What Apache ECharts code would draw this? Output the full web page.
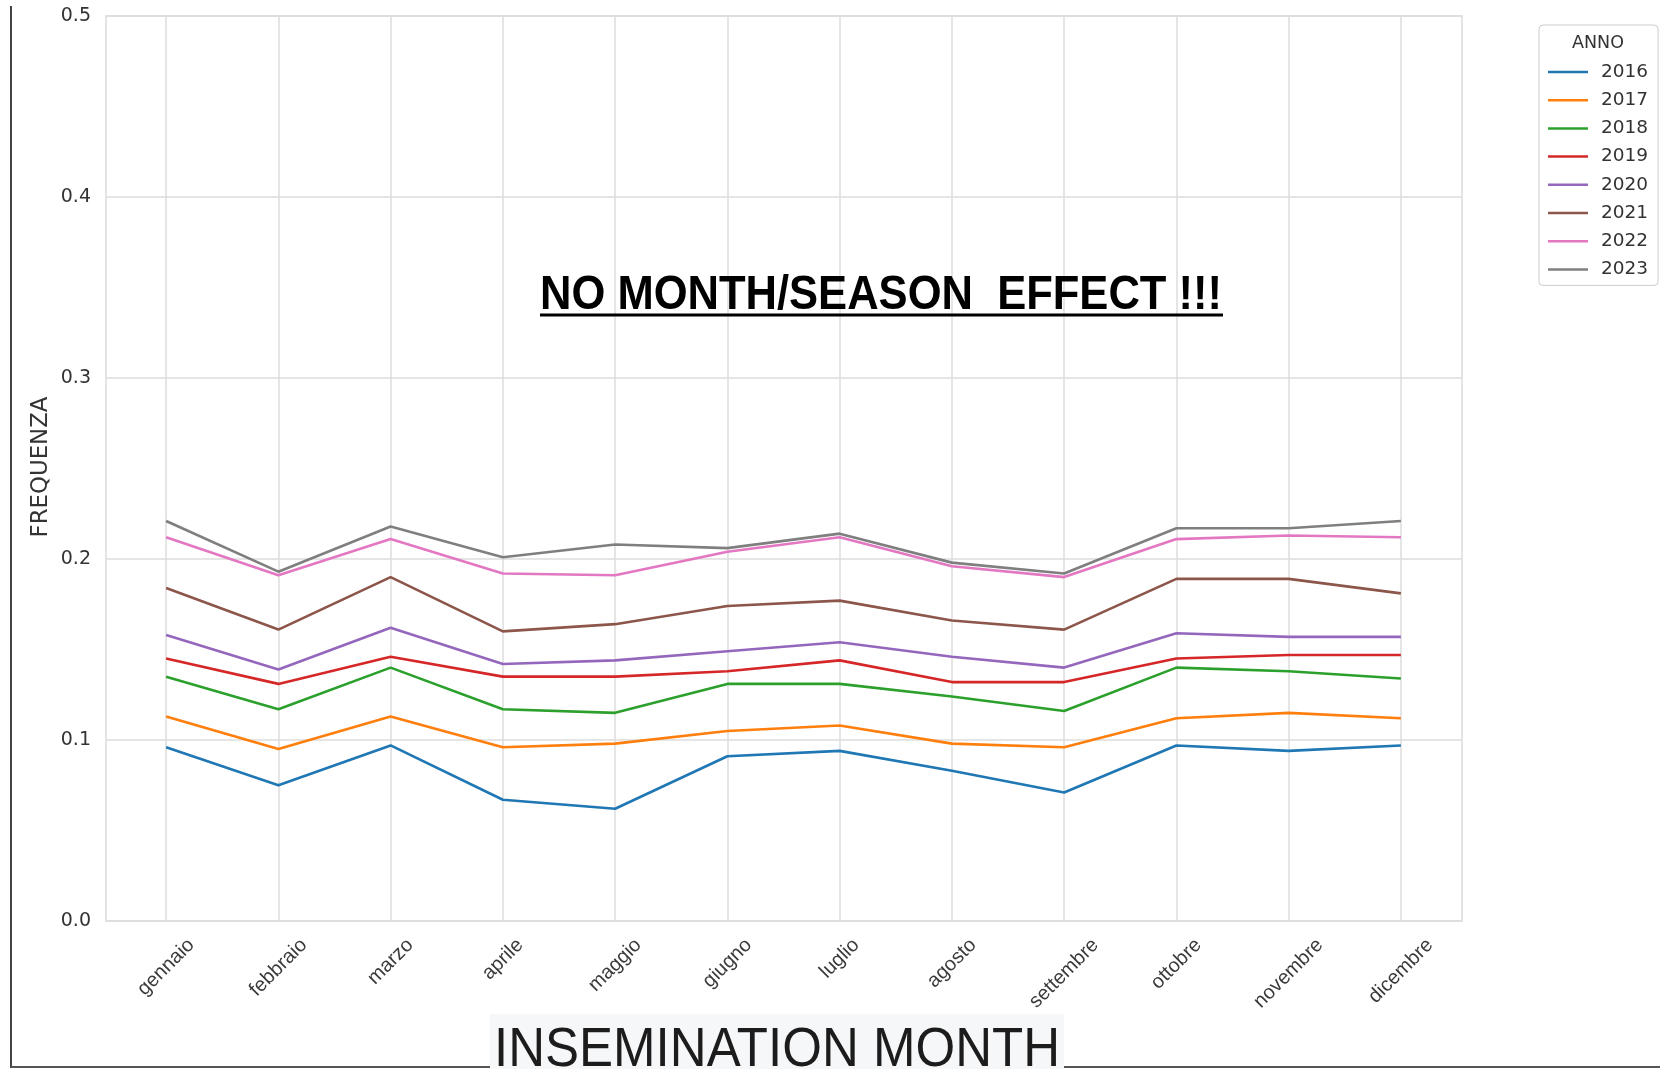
<!DOCTYPE html>
<html>
<head>
<meta charset="utf-8">
<script src="https://cdn.jsdelivr.net/npm/echarts@6/dist/echarts.min.js"></script>
<style>
html,body{margin:0;padding:0;background:#fff;}
#chart{width:1660px;height:1069px;}
</style>
</head>
<body>
<div id="chart"></div>
<script>
const months = ['gennaio','febbraio','marzo','aprile','maggio','giugno','luglio','agosto','settembre','ottobre','novembre','dicembre'];
const years = ['2016','2017','2018','2019','2020','2021','2022','2023'];
const yTicks = [0.0, 0.1, 0.2, 0.3, 0.4, 0.5];

const v2016 = [0.096, 0.075, 0.097, 0.067, 0.062, 0.091, 0.094, 0.083, 0.071, 0.097, 0.094, 0.097];
const v2017 = [0.113, 0.095, 0.113, 0.096, 0.098, 0.105, 0.108, 0.098, 0.096, 0.112, 0.115, 0.112];
const v2018 = [0.135, 0.117, 0.140, 0.117, 0.115, 0.131, 0.131, 0.124, 0.116, 0.140, 0.138, 0.134];
const v2019 = [0.145, 0.131, 0.146, 0.135, 0.135, 0.138, 0.144, 0.132, 0.132, 0.145, 0.147, 0.147];
const v2020 = [0.158, 0.139, 0.162, 0.142, 0.144, 0.149, 0.154, 0.146, 0.140, 0.159, 0.157, 0.157];
const v2021 = [0.184, 0.161, 0.190, 0.160, 0.164, 0.174, 0.177, 0.166, 0.161, 0.189, 0.189, 0.181];
const v2022 = [0.212, 0.191, 0.211, 0.192, 0.191, 0.204, 0.212, 0.196, 0.190, 0.211, 0.213, 0.212];
const v2023 = [0.221, 0.193, 0.218, 0.201, 0.208, 0.206, 0.214, 0.198, 0.192, 0.217, 0.217, 0.221];
const seriesValues = [v2016, v2017, v2018, v2019, v2020, v2021, v2022, v2023];
const colors = ['#1f77b4','#ff7f0e','#2ca02c','#d62728','#9467bd','#8c564b','#e377c2','#7f7f7f'];

const mainTitle = 'NO MONTH/SEASON  EFFECT !!!';
const xTitle = 'INSEMINATION MONTH';
const yTitle = 'FREQUENZA';
const legendTitle = 'ANNO';

const cv = document.createElement('canvas').getContext('2d');
function measure(text, font){ cv.font = font; return cv.measureText(text).width; }

// x label offsets so each rotated label is centred under its tick (matplotlib style)
const xFontSize = 20;
const xFont = xFontSize + 'px "Liberation Sans"';
const offs = months.map(m => 15 + 0.354 * (measure(m, xFont) + 17));
const minOff = Math.min(...offs);
const rich = {};
months.forEach((m, i) => {
  const p = 1.414 * (offs[i] - minOff);
  rich['s' + i] = {fontFamily: 'Liberation Sans', fontSize: xFontSize, color: '#3a3a3a', padding: [p, p, 0, 0]};
});

const chart = echarts.init(document.getElementById('chart'));
const titleFont = 'bold 49px "Liberation Sans"';
const xTitleFont = '55px "Liberation Sans"';
const yTitleFont = '23px "DejaVu Sans"';
const titleW = measure(mainTitle, titleFont);
const xTitleW = measure(xTitle, xTitleFont);
const yTitleW = measure(yTitle, yTitleFont);

const yMin = yTicks[0], yMax = yTicks[yTicks.length - 1];

chart.setOption({
  animation: false,
  backgroundColor: '#ffffff',
  color: colors,
  grid: [
    {left: 106, right: 198, top: 16, bottom: 148, show: true, borderColor: '#dcdcdc', borderWidth: 1.5, containLabel: false},
    {left: 110, right: 203, top: 16, bottom: 148, show: false, containLabel: false}
  ],
  xAxis: [
    {type: 'value', gridIndex: 0, show: false, min: 0, max: 1},
    {
      type: 'category', gridIndex: 1,
      data: months,
      boundaryGap: true,
      axisLine: {show: false},
      axisTick: {show: false, alignWithLabel: true},
      splitLine: {show: true, alignWithLabel: true, lineStyle: {color: '#dcdcdc', width: 1.5}},
      axisLabel: {
        rotate: 45, align: 'center', verticalAlign: 'middle', margin: minOff, interval: 0,
        formatter: (v, i) => '{s' + i + '|' + v + '}',
        rich: rich
      }
    }
  ],
  yAxis: [
    {
      type: 'value', gridIndex: 0, min: yMin, max: yMax, interval: 0.1,
      axisLine: {show: false}, axisTick: {show: false},
      splitLine: {show: true, lineStyle: {color: '#dcdcdc', width: 1.5}},
      axisLabel: {margin: 15, fontFamily: 'DejaVu Sans', fontSize: 19, color: '#333', formatter: v => v.toFixed(1)}
    },
    {type: 'value', gridIndex: 1, min: yMin, max: yMax, interval: 0.1, show: false, splitLine: {show: false}}
  ],
  legend: {
    orient: 'vertical', left: 1539, top: 25,
    data: years,
    icon: 'rect', itemWidth: 40, itemHeight: 2.5, itemGap: 8.2,
    padding: [37, 10, 6, 9],
    borderColor: '#cccccc', borderWidth: 1, borderRadius: 4, backgroundColor: '#fff',
    textStyle: {fontFamily: 'DejaVu Sans', fontSize: 18.5, color: '#333', lineHeight: 20, padding: [0, 0, 0, 8]}
  },
  series: years.map((y, i) => ({
    name: y, type: 'line', xAxisIndex: 1, yAxisIndex: 1, data: seriesValues[i], symbol: 'none',
    lineStyle: {width: 2.6, color: colors[i]}, itemStyle: {color: colors[i]}
  })),
  graphic: [
    {type: 'line', shape: {x1: 11, y1: 6, x2: 11, y2: 1068}, style: {stroke: '#444', lineWidth: 2}, z: 10},
    {type: 'line', shape: {x1: 11, y1: 1067, x2: 1660, y2: 1067}, style: {stroke: '#555', lineWidth: 2}, z: 10},
    {type: 'rect', shape: {x: 490, y: 1014, width: 574, height: 56}, style: {fill: '#f6f7f9'}, z: 11},
    {type: 'text', x: 494, y: 1051, scaleX: 566 / xTitleW, z: 12,
      style: {text: xTitle, x: 0, y: 0, font: xTitleFont, fill: '#1c1c1c', align: 'left', verticalAlign: 'middle'}},
    {type: 'text', x: 540, y: 295, scaleX: 682 / titleW, z: 12,
      style: {text: mainTitle, x: 0, y: 0, font: titleFont, fill: '#000', align: 'left', verticalAlign: 'middle'}},
    {type: 'line', shape: {x1: 540, y1: 315, x2: 1223, y2: 315}, style: {stroke: '#000', lineWidth: 3}, z: 12},
    {type: 'text', x: 41, y: 467, rotation: Math.PI / 2, scaleX: 141 / yTitleW, z: 12,
      style: {text: yTitle, x: 0, y: 0, font: yTitleFont, fill: '#333', align: 'center', verticalAlign: 'middle'}},
    {type: 'text', x: 1598, y: 43, z: 12,
      style: {text: legendTitle, x: 0, y: 0, font: '17.5px "DejaVu Sans"', fill: '#333', align: 'center', verticalAlign: 'middle'}}
  ]
});
</script>
</body>
</html>
